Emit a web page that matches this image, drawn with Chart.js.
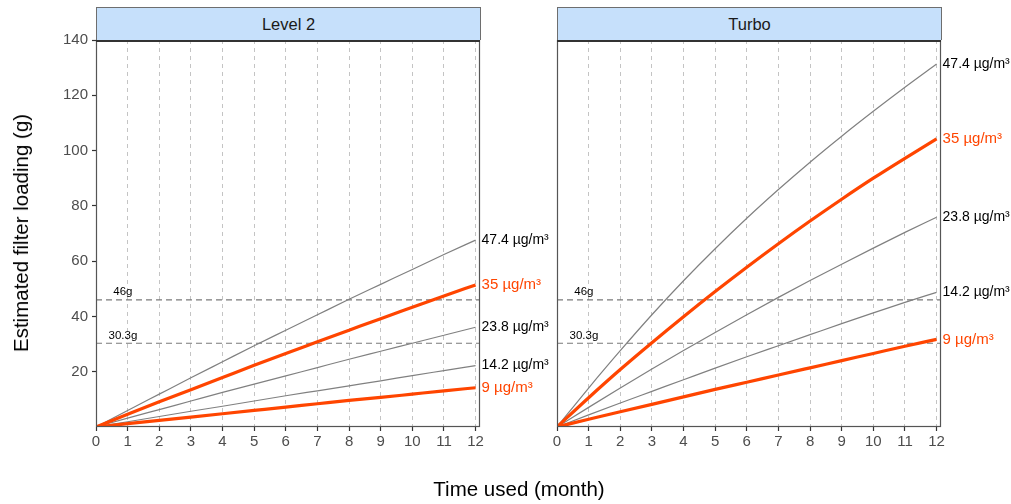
<!DOCTYPE html>
<html>
<head>
<meta charset="utf-8">
<script src="https://cdn.jsdelivr.net/npm/chart.js@4.4.1/dist/chart.umd.min.js"></script>
<style>
  html, body { margin: 0; padding: 0; background: #ffffff; }
  body { width: 1011px; height: 504px; position: relative; overflow: hidden;
         font-family: "Liberation Sans", Arial, Helvetica, sans-serif; }
  canvas { position: absolute; top: 0; }
  .strip { position: absolute; top: 7px; height: 32px; width: 383px;
           background: #c6e0fb; border: 1px solid #6e6e6e; border-bottom: none;
           color: #1a1a1a; font-size: 16.5px; line-height: 32px; text-align: center; }
  .ytitle { position: absolute; left: 21px; top: 233px; transform: translate(-50%, -50%) rotate(-90deg);
            font-size: 20.5px; color: #000; white-space: nowrap; }
  .xtitle { position: absolute; left: 519px; top: 489px; transform: translate(-50%, -50%);
            font-size: 20.5px; color: #000; white-space: nowrap; }
</style>
</head>
<body>
<canvas id="level2" width="560" height="504" style="left:0px"></canvas>
<canvas id="turbo" width="511" height="504" style="left:500px"></canvas>
<div class="strip" style="left:96px">Level 2</div>
<div class="strip" style="left:557px">Turbo</div>
<div class="ytitle">Estimated filter loading (g)</div>
<div class="xtitle">Time used (month)</div>

<script>
// Months of use
const months = [0, 1, 2, 3, 4, 5, 6, 7, 8, 9, 10, 11, 12];
const xTicks = [0, 1, 2, 3, 4, 5, 6, 7, 8, 9, 10, 11, 12];
const yTicks = [20, 40, 60, 80, 100, 120, 140];

// PM2.5 concentration series labels
const seriesLabels = ['47.4 µg/m³', '35 µg/m³', '23.8 µg/m³', '14.2 µg/m³', '9 µg/m³'];
const highlighted = [false, true, false, false, true];

// Estimated filter loading (g), Level 2 fan speed
const level2_474 = [0, 6.0, 11.9, 17.8, 23.6, 29.4, 35.0, 40.6, 46.2, 51.6, 57.0, 62.4, 67.6];
const level2_35  = [0, 4.6, 9.1, 13.5, 17.9, 22.3, 26.6, 30.8, 35.0, 39.2, 43.3, 47.4, 51.4];
const level2_238 = [0, 3.2, 6.3, 9.4, 12.5, 15.5, 18.5, 21.5, 24.5, 27.4, 30.3, 33.2, 36.1];
const level2_142 = [0, 1.9, 3.8, 5.7, 7.5, 9.4, 11.3, 13.1, 14.9, 16.7, 18.6, 20.4, 22.2];
const level2_9   = [0, 1.2, 2.4, 3.6, 4.8, 6.0, 7.2, 8.4, 9.6, 10.7, 11.9, 13.1, 14.2];

// Estimated filter loading (g), Turbo fan speed
const turbo_474 = [0, 14.1, 27.6, 40.6, 52.9, 64.5, 75.5, 85.9, 95.8, 105.2, 114.2, 122.9, 131.3];
const turbo_35  = [0, 10.6, 20.8, 30.5, 39.9, 49.0, 57.8, 66.3, 74.5, 82.4, 90.0, 97.2, 104.2];
const turbo_238 = [0, 7.1, 14.1, 21.0, 27.7, 34.2, 40.6, 46.9, 53.0, 58.9, 64.7, 70.4, 75.9];
const turbo_142 = [0, 4.4, 8.7, 12.9, 17.1, 21.3, 25.4, 29.4, 33.4, 37.4, 41.3, 45.1, 48.7];
const turbo_9   = [0, 2.8, 5.5, 8.2, 10.9, 13.6, 16.2, 18.8, 21.4, 24.0, 26.6, 29.2, 31.7];

// Filter capacity reference lines
const thresholds = [46, 30.3];
const thresholdLabels = ['46g', '30.3g'];

const RED = '#ff4500';
const GREY = '#808080';
const FONT = '"Liberation Sans", Arial, Helvetica, sans-serif';
const X_MAX = 12.14;

function buildDatasets(seriesList) {
  const sets = [];
  seriesList.forEach((vals, i) => {
    const hi = highlighted[i];
    sets.push({
      label: seriesLabels[i],
      data: months.map((m, k) => ({ x: m, y: vals[k] })),
      borderColor: hi ? RED : GREY,
      borderWidth: hi ? 3.2 : 1.2,
      pointRadius: 0,
      cubicInterpolationMode: 'monotone',
      order: hi ? 0 : 1,
      endLabel: seriesLabels[i],
      endColor: hi ? RED : '#000000',
      endSize: hi ? 15 : 14
    });
  });
  thresholds.forEach((t, i) => {
    sets.push({
      label: thresholdLabels[i],
      data: [{ x: 0, y: t }, { x: X_MAX, y: t }],
      borderColor: '#7a7a7a',
      borderWidth: 1.2,
      borderDash: [6, 4],
      pointRadius: 0,
      order: 2,
      refLabel: thresholdLabels[i]
    });
  });
  return sets;
}

// Panel frame, end-of-line labels and reference-line captions
const panelDecor = {
  id: 'panelDecor',
  afterDatasetsDraw(chart) {
    const ctx = chart.ctx;
    const xs = chart.scales.x, ys = chart.scales.y;
    ctx.save();
    chart.data.datasets.forEach((ds, i) => {
      const meta = chart.getDatasetMeta(i);
      if (ds.endLabel) {
        const pt = meta.data[meta.data.length - 1];
        ctx.font = ds.endSize + 'px ' + FONT;
        ctx.fillStyle = ds.endColor;
        ctx.textAlign = 'left';
        ctx.textBaseline = 'middle';
        ctx.fillText(ds.endLabel, pt.x + 6, pt.y);
      }
      if (ds.refLabel) {
        ctx.font = '11.5px ' + FONT;
        ctx.fillStyle = '#000000';
        ctx.textAlign = 'center';
        ctx.textBaseline = 'bottom';
        ctx.fillText(ds.refLabel, xs.getPixelForValue(0.85), ys.getPixelForValue(ds.data[0].y) - 2);
      }
    });
    const a = chart.chartArea;
    ctx.strokeStyle = '#555555';
    ctx.lineWidth = 1.2;
    ctx.strokeRect(a.left + 0.5, a.top + 0.5, a.right - a.left - 1, a.bottom - a.top - 1);
    ctx.strokeStyle = '#333333';
    ctx.lineWidth = 2;
    ctx.beginPath();
    ctx.moveTo(a.left, a.top + 1);
    ctx.lineTo(a.right, a.top + 1);
    ctx.stroke();
    ctx.restore();
  }
};

function makeChart(id, seriesList, showY, pad) {
  return new Chart(document.getElementById(id), {
    type: 'line',
    data: { datasets: buildDatasets(seriesList) },
    options: {
      responsive: false,
      animation: false,
      layout: { padding: pad },
      plugins: { legend: { display: false }, tooltip: { enabled: false } },
      scales: {
        x: {
          type: 'linear',
          min: 0,
          max: X_MAX,
          afterBuildTicks: s => { s.ticks = xTicks.map(v => ({ value: v })); },
          afterFit: s => { s.height = 30; },
          grid: { color: '#c4c4c4', lineWidth: 1, tickColor: '#333333', tickLength: 4, tickWidth: 1.2 },
          border: { display: false, dash: [4, 4] },
          ticks: { font: { family: FONT, size: 15 }, color: '#4d4d4d', padding: 2, maxRotation: 0 }
        },
        y: {
          type: 'linear',
          min: 0,
          max: 140,
          display: showY,
          afterBuildTicks: s => { s.ticks = yTicks.map(v => ({ value: v })); },
          afterFit: s => { s.width = showY ? 96 : 0; },
          grid: { drawOnChartArea: false, tickColor: '#333333', tickLength: 4, tickWidth: 1.2 },
          border: { display: false },
          ticks: { font: { family: FONT, size: 15 }, color: '#4d4d4d', padding: 4 }
        }
      }
    },
    plugins: [panelDecor]
  });
}

makeChart('level2', [level2_474, level2_35, level2_238, level2_142, level2_9], true,
  { top: 40, right: 80, bottom: 47, left: 0 });
makeChart('turbo', [turbo_474, turbo_35, turbo_238, turbo_142, turbo_9], false,
  { top: 40, right: 70, bottom: 47, left: 57 });
</script>
</body>
</html>
